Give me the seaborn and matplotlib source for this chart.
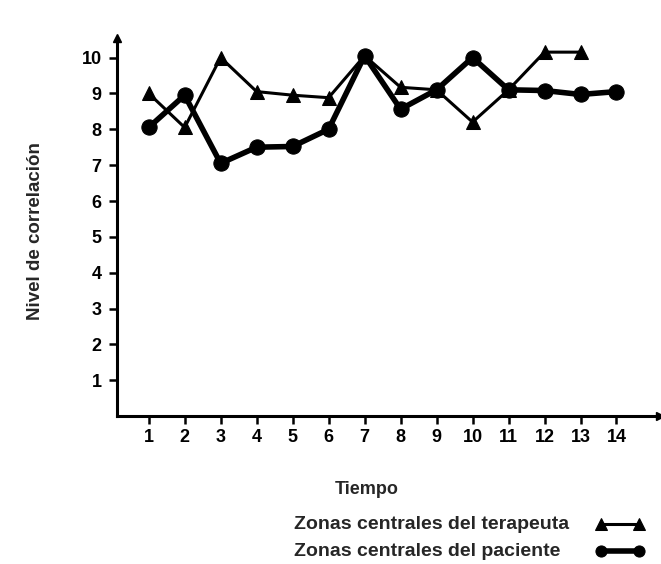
import matplotlib
matplotlib.use('Agg')
import matplotlib.pyplot as plt
import seaborn as sns
import pandas as pd

tiempo_t = [1, 2, 3, 4, 5, 6, 7, 8, 9, 10, 11, 12, 13]
terapeuta = [9.0, 8.05, 10.0, 9.05, 8.95, 8.88, 10.05, 9.17, 9.1, 8.2, 9.1, 10.15, 10.15]
tiempo_p = [1, 2, 3, 4, 5, 6, 7, 8, 9, 10, 11, 12, 13, 14]
paciente = [8.05, 8.95, 7.05, 7.5, 7.52, 8.0, 10.05, 8.56, 9.1, 10.0, 9.1, 9.08, 8.97, 9.05]
labels = ['Zonas centrales del terapeuta', 'Zonas centrales del paciente']
xticks = list(range(1, 15))
yticks = list(range(1, 11))

sns.set_style('ticks')
plt.rcParams['font.family'] = ['Liberation Sans', 'DejaVu Sans']

df_t = pd.DataFrame({'Tiempo': tiempo_t, 'Nivel': terapeuta})
df_p = pd.DataFrame({'Tiempo': tiempo_p, 'Nivel': paciente})

fig = plt.figure(figsize=(6.61, 5.64), dpi=100)
ax = fig.add_axes([0.177, 0.262, 0.821, 0.671])

sns.lineplot(data=df_t, x='Tiempo', y='Nivel', ax=ax, color='black', lw=2.2,
             marker='^', markersize=10, markeredgecolor='black', label=labels[0])
sns.lineplot(data=df_p, x='Tiempo', y='Nivel', ax=ax, color='black', lw=4,
             marker='o', markersize=11, markeredgecolor='black', label=labels[1])

ax.set_xlim(0.12, 15.2)
ax.set_ylim(0, 10.55)
ax.set_xticks(xticks)
ax.set_yticks(yticks)
ax.tick_params(axis='both', direction='out', length=6, width=1.8,
               labelsize=13, colors='black')
ax.tick_params(axis='y', pad=5)
for lab in ax.get_xticklabels() + ax.get_yticklabels():
    lab.set_fontweight('bold')

sns.despine(ax=ax)
for side in ['left', 'bottom']:
    ax.spines[side].set_linewidth(2.2)
    ax.spines[side].set_color('black')
# arrow heads at the axis ends
ax.plot(1, 0, '>k', markersize=6, transform=ax.transAxes, clip_on=False)
ax.plot(0, 1, '^k', markersize=6, transform=ax.transAxes, clip_on=False)

ax.set_xlabel('Tiempo', fontsize=13, fontweight='bold')
ax.xaxis.set_label_coords(0.46, -0.17)
ax.set_ylabel('Nivel de correlación', fontsize=13.5, fontweight='bold')
ax.yaxis.set_label_coords(-0.135, 0.49)

# legend: text left-aligned, samples on the right
ax.get_legend().remove()
handles, _ = ax.get_legend_handles_labels()
leg = fig.legend(handles, ['', ''], loc='upper left',
                 bbox_to_anchor=(0.885, 0.1), frameon=False, numpoints=2,
                 handlelength=2.6, handletextpad=0, labelspacing=0.5,
                 borderpad=0, prop={'size': 14})
for h in leg.legend_handles:
    h.set_markersize(8)
fig.text(0.445, 0.07, labels[0], fontsize=14, fontweight='bold', va='center')
fig.text(0.445, 0.022, labels[1], fontsize=14, fontweight='bold', va='center')

fig.savefig('out.png', dpi=100)
